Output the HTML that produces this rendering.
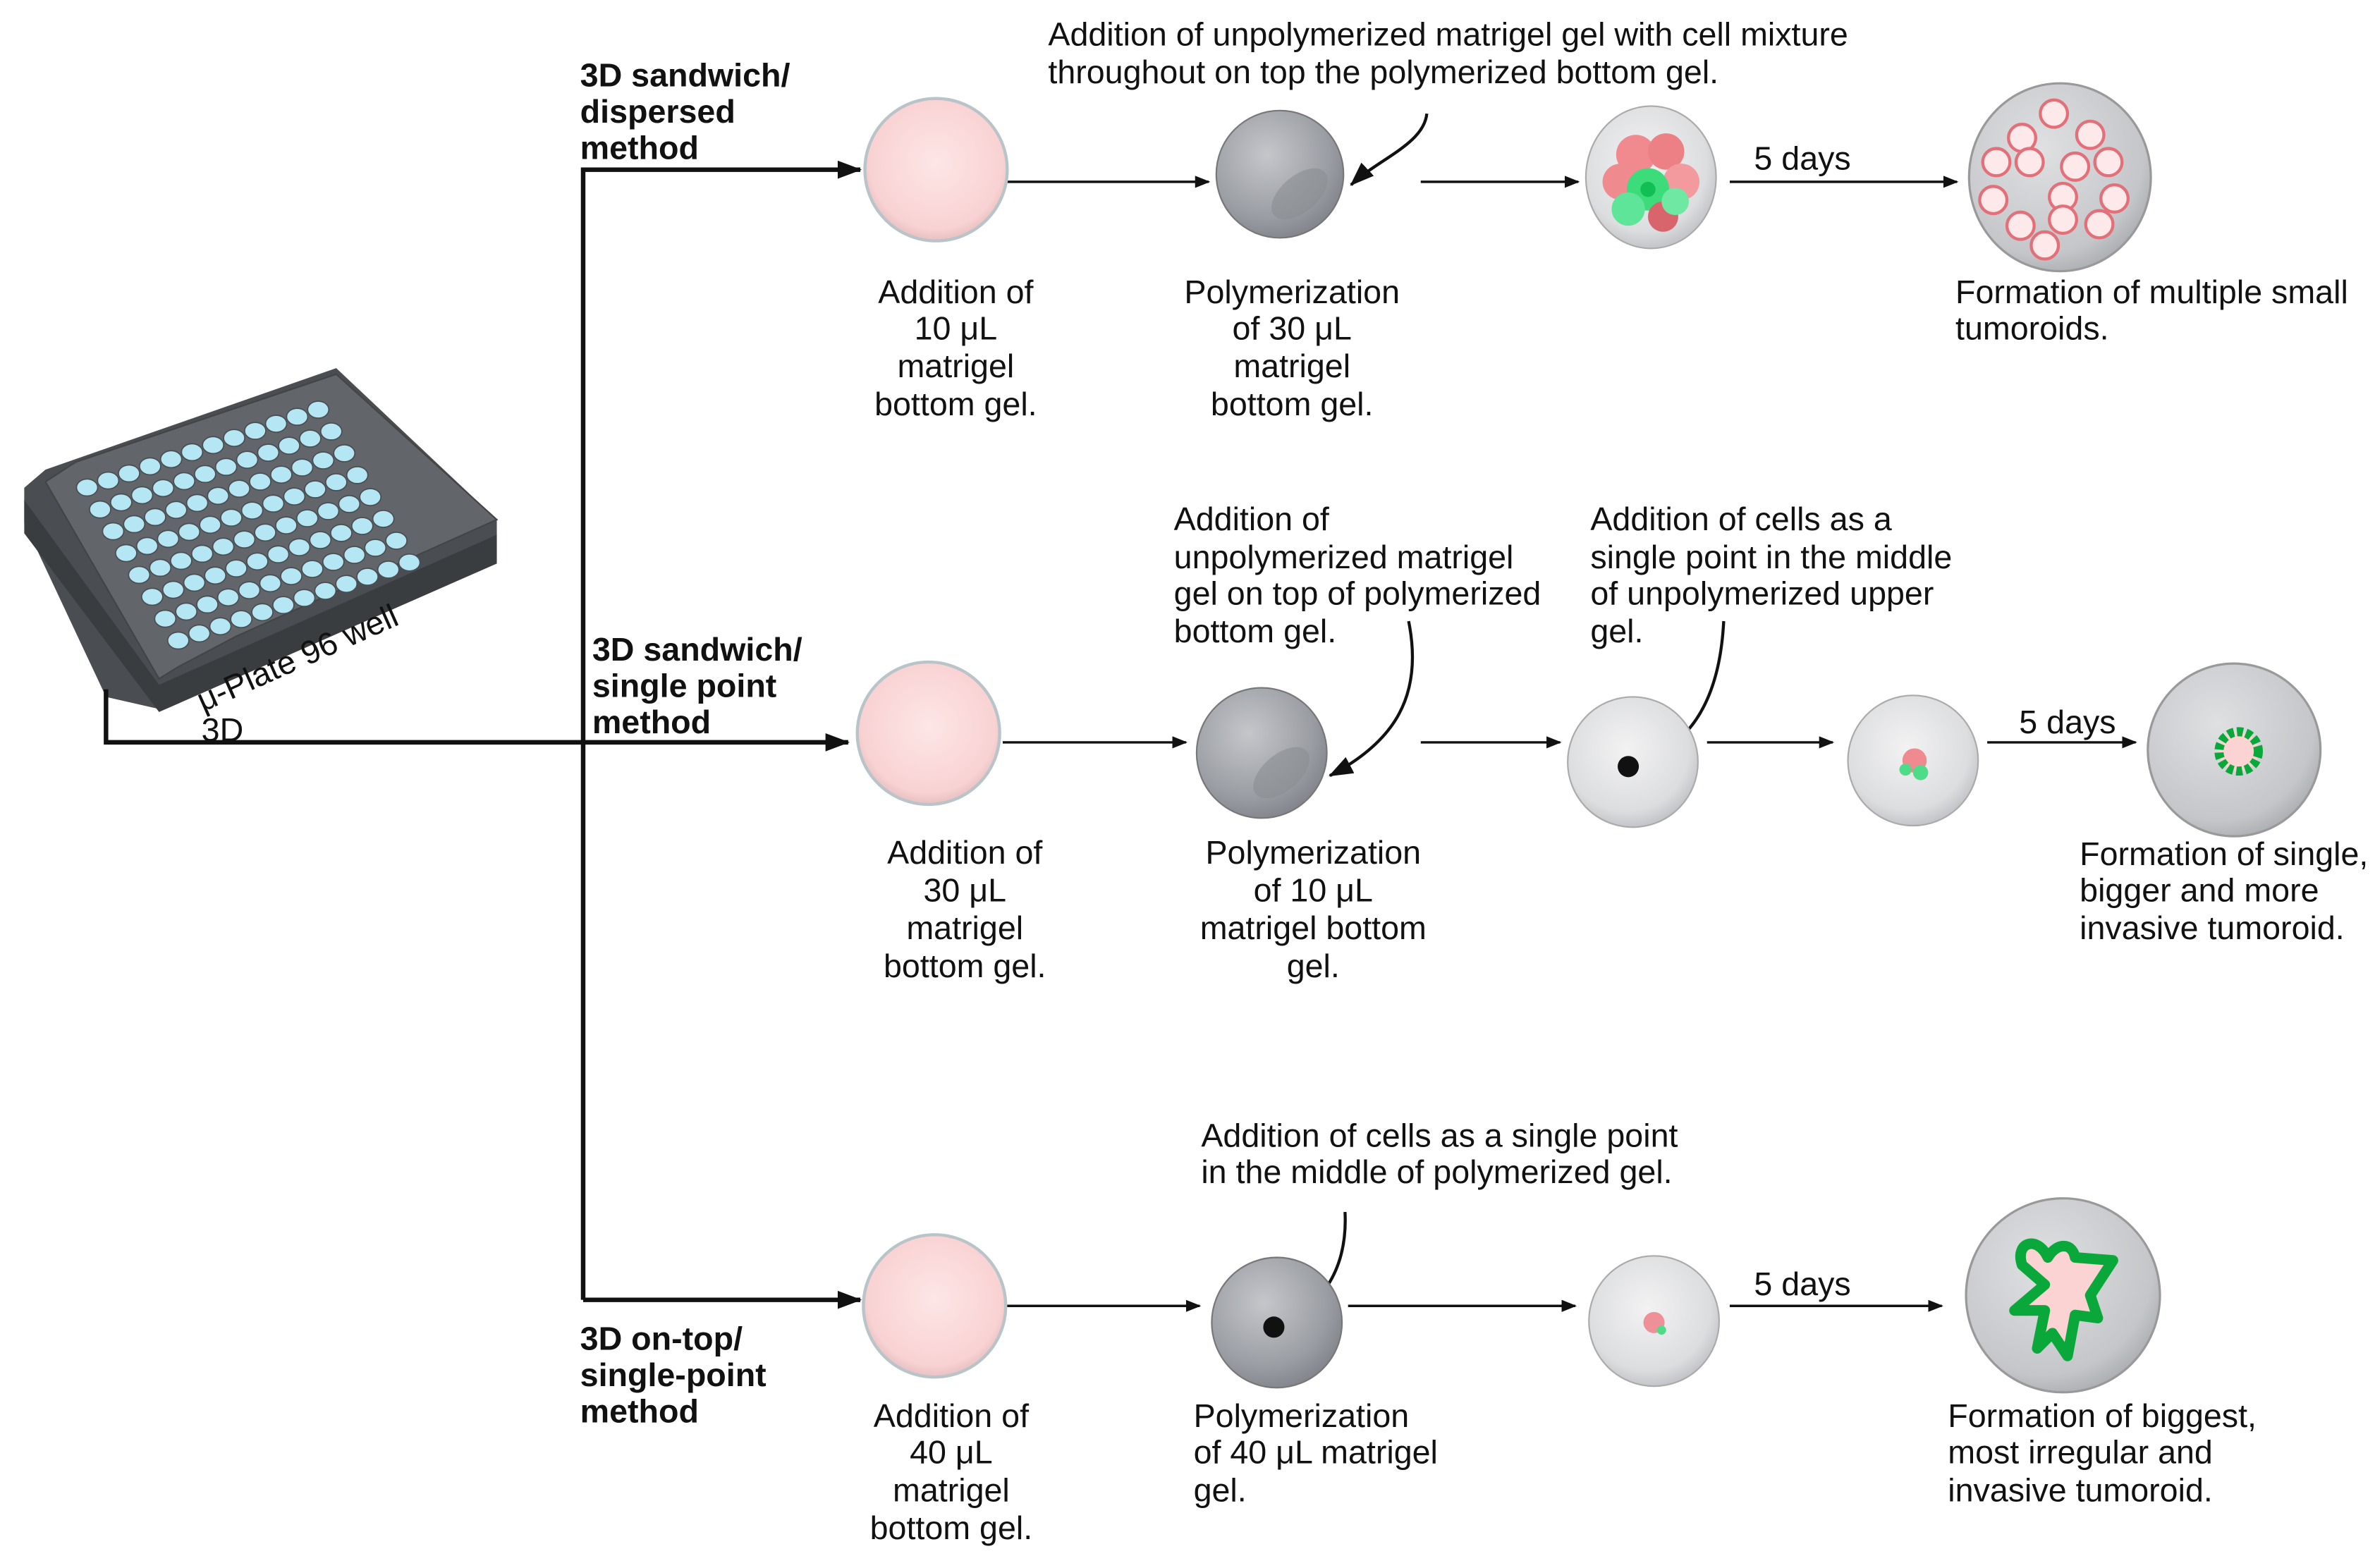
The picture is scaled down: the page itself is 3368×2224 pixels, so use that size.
<!DOCTYPE html>
<html><head><meta charset="utf-8"><style>
html,body{margin:0;padding:0;background:#fff}
svg{display:block}
text{font-family:"Liberation Sans",Arial,sans-serif;font-size:21.7px;fill:#111}
.b{font-weight:bold}
</style></head><body>
<svg width="3368" height="2224" viewBox="0 0 1568 1035" preserveAspectRatio="none" xmlns="http://www.w3.org/2000/svg">
<defs>
<marker id="ah" markerWidth="10" markerHeight="8" refX="9" refY="4" orient="auto" markerUnits="userSpaceOnUse"><path d="M0,0 L10,4 L0,8 z" fill="#111"/></marker>
<marker id="ahb" markerWidth="16" markerHeight="12" refX="15" refY="6" orient="auto" markerUnits="userSpaceOnUse"><path d="M0,0 L16,6 L0,12 z" fill="#111"/></marker>
<radialGradient id="pink" cx="0.5" cy="0.45" r="0.55"><stop offset="0" stop-color="#fde6e6"/><stop offset="0.85" stop-color="#f9d2d3"/><stop offset="1" stop-color="#e6c0c2"/></radialGradient>
<radialGradient id="gray" cx="0.4" cy="0.35" r="0.7"><stop offset="0" stop-color="#c4c6ca"/><stop offset="0.7" stop-color="#9a9da3"/><stop offset="1" stop-color="#7f8288"/></radialGradient>
<radialGradient id="lgray" cx="0.45" cy="0.4" r="0.6"><stop offset="0" stop-color="#f2f2f3"/><stop offset="0.8" stop-color="#dcdddf"/><stop offset="1" stop-color="#c3c5c8"/></radialGradient>
<radialGradient id="mgray" cx="0.4" cy="0.35" r="0.7"><stop offset="0" stop-color="#dfe0e2"/><stop offset="0.8" stop-color="#c4c6c9"/><stop offset="1" stop-color="#a8abaf"/></radialGradient>
</defs>

<!-- plate -->
<g>
<polygon points="16,322 30,310 222,243 328,343 328,370 105,468 70,460 16,345" fill="#4a4e52"/>
<polygon points="16,330 105,452 328,353 328,372 105,470 16,352" fill="#3a3d40"/>
<polygon points="30,318 50,305 222,247 328,343 156,420 118,440 105,448" fill="#62666b" stroke="#444" stroke-width="1"/>
<g id="wells"></g>
</g>

<!-- connectors -->
<g fill="none" stroke="#111" stroke-width="3">
<path d="M70,455 L70,490 L560,490" marker-end="url(#ahb)"/>
<path d="M385,858 L385,112 L568,112" marker-end="url(#ahb)"/>
<path d="M385,858 L568,858" marker-end="url(#ahb)"/>
</g>
<g fill="none" stroke="#111" stroke-width="1.6">
<path d="M665,120 L798,120" marker-end="url(#ah)"/>
<path d="M938,120 L1042,120" marker-end="url(#ah)"/>
<path d="M1142,120 L1292,120" marker-end="url(#ah)"/>
<path d="M662,490 L783,490" marker-end="url(#ah)"/>
<path d="M938,490 L1030,490" marker-end="url(#ah)"/>
<path d="M1127,490 L1210,490" marker-end="url(#ah)"/>
<path d="M1312,490 L1410,490" marker-end="url(#ah)"/>
<path d="M662,862 L792,862" marker-end="url(#ah)"/>
<path d="M890,862 L1040,862" marker-end="url(#ah)"/>
<path d="M1142,862 L1282,862" marker-end="url(#ah)"/>
</g>
<g fill="none" stroke="#111" stroke-width="2">
<path d="M942,75 C940,95 910,105 892,122" marker-end="url(#ahb)"/>
<path d="M930,410 C940,460 920,490 878,512" marker-end="url(#ahb)"/>
<path d="M1138,410 C1135,470 1110,495 1078,505"/>
<path d="M888,800 C890,840 870,865 843,875"/>
</g>

<!-- row1 wells -->
<circle cx="618" cy="112" r="47" fill="url(#pink)" stroke="#b8c4c8" stroke-width="2"/>
<circle cx="845" cy="115" r="42" fill="url(#gray)" stroke="#777" stroke-width="1"/>
<ellipse cx="858" cy="128" rx="22" ry="12" fill="#8a8d93" opacity="0.6" transform="rotate(-40 858 128)"/>
<ellipse cx="1090" cy="117" rx="43" ry="47" fill="url(#lgray)" stroke="#aaa" stroke-width="1"/>
<circle cx="1080" cy="102" r="13" fill="#f08a8e"/><circle cx="1100" cy="100" r="12" fill="#ec8085"/>
<circle cx="1070" cy="120" r="12" fill="#ef8a8f"/><circle cx="1110" cy="120" r="12" fill="#f29a9d"/>
<circle cx="1088" cy="125" r="14" fill="#3ddc7a"/><circle cx="1075" cy="138" r="11" fill="#5ee59a"/>
<circle cx="1098" cy="143" r="10" fill="#d9656c"/><circle cx="1106" cy="133" r="9" fill="#6ee8a2"/>
<circle cx="1088" cy="125" r="5" fill="#10c055"/>
<ellipse cx="1360" cy="117" rx="60" ry="62" fill="url(#mgray)" stroke="#999" stroke-width="1.5"/>
<g fill="#fde8ea" stroke="#e36f78" stroke-width="2">
<circle cx="1356" cy="75" r="9"/><circle cx="1335" cy="91" r="9"/><circle cx="1380" cy="89" r="9"/>
<circle cx="1318" cy="107" r="9"/><circle cx="1340" cy="107" r="9"/><circle cx="1370" cy="110" r="9"/><circle cx="1392" cy="107" r="9"/>
<circle cx="1316" cy="132" r="9"/><circle cx="1362" cy="130" r="9"/><circle cx="1396" cy="131" r="9"/>
<circle cx="1334" cy="149" r="9"/><circle cx="1386" cy="148" r="9"/><circle cx="1362" cy="145" r="9"/><circle cx="1350" cy="162" r="9"/>
</g>

<!-- row2 wells -->
<circle cx="613" cy="484" r="47" fill="url(#pink)" stroke="#b8c4c8" stroke-width="2"/>
<circle cx="833" cy="497" r="43" fill="url(#gray)" stroke="#777" stroke-width="1"/>
<ellipse cx="846" cy="510" rx="22" ry="12" fill="#8a8d93" opacity="0.6" transform="rotate(-40 846 510)"/>
<circle cx="1078" cy="503" r="43" fill="url(#lgray)" stroke="#aaa" stroke-width="1"/>
<circle cx="1075" cy="506" r="7" fill="#111"/>
<circle cx="1263" cy="502" r="43" fill="url(#lgray)" stroke="#aaa" stroke-width="1"/>
<circle cx="1264" cy="502" r="8" fill="#ee8a90"/><circle cx="1268" cy="510" r="5" fill="#4fdc88"/><circle cx="1258" cy="508" r="4" fill="#4fdc88"/>
<circle cx="1475" cy="495" r="57" fill="url(#mgray)" stroke="#999" stroke-width="1.5"/>
<circle cx="1478" cy="496" r="13" fill="#fbd3d3" stroke="#0aa83a" stroke-width="6" stroke-dasharray="4 2"/>

<!-- row3 wells -->
<circle cx="617" cy="862" r="47" fill="url(#pink)" stroke="#b8c4c8" stroke-width="2"/>
<circle cx="843" cy="873" r="43" fill="url(#gray)" stroke="#777" stroke-width="1"/>
<circle cx="841" cy="876" r="7" fill="#111"/>
<circle cx="1092" cy="872" r="43" fill="url(#lgray)" stroke="#aaa" stroke-width="1"/>
<circle cx="1092" cy="873" r="7" fill="#ee9097"/><circle cx="1097" cy="878" r="3" fill="#4fdc88"/>
<circle cx="1362" cy="855" r="64" fill="url(#mgray)" stroke="#999" stroke-width="1.5"/>
<path d="M1335,835 C1330,820 1345,815 1352,830 C1358,820 1368,820 1370,830 L1395,832 L1380,855 L1385,870 L1370,868 L1365,895 L1355,880 L1345,890 L1350,865 L1330,865 L1350,848 Z" fill="#fbd3d3" stroke="#0aa83a" stroke-width="7" stroke-linejoin="round"/>

<!-- labels -->
<text class="b" x="383" y="57">3D sandwich/</text>
<text class="b" x="383" y="81">dispersed</text>
<text class="b" x="383" y="105">method</text>
<text class="b" x="391" y="436">3D sandwich/</text>
<text class="b" x="391" y="460">single point</text>
<text class="b" x="391" y="484">method</text>
<text class="b" x="383" y="891">3D on-top/</text>
<text class="b" x="383" y="915">single-point</text>
<text class="b" x="383" y="939">method</text>
<text x="134" y="470" transform="rotate(-24 134 470)">μ-Plate 96 well</text>
<text x="133" y="489">3D</text>

<text x="692" y="30">Addition of unpolymerized matrigel gel with cell mixture</text>
<text x="692" y="55">throughout on top the polymerized bottom gel.</text>
<g text-anchor="middle">
<text x="631" y="200">Addition  of</text><text x="631" y="224">10 μL</text><text x="631" y="249">matrigel</text><text x="631" y="274">bottom gel.</text>
<text x="853" y="200">Polymerization</text><text x="853" y="224">of 30 μL</text><text x="853" y="249">matrigel</text><text x="853" y="274">bottom gel.</text>
<text x="1190" y="112">5 days</text>
<text x="637" y="570">Addition of</text><text x="637" y="595">30 μL</text><text x="637" y="620">matrigel</text><text x="637" y="645">bottom gel.</text>
<text x="867" y="570">Polymerization</text><text x="867" y="595">of 10 μL</text><text x="867" y="620">matrigel bottom</text><text x="867" y="645">gel.</text>
<text x="1365" y="484">5 days</text>
<text x="628" y="942">Addition of</text><text x="628" y="966">40 μL</text><text x="628" y="991">matrigel</text><text x="628" y="1016">bottom gel.</text>
<text x="1190" y="855">5 days</text>
</g>
<text x="1291" y="200">Formation of multiple small</text>
<text x="1291" y="224">tumoroids.</text>
<text x="775" y="350">Addition of</text>
<text x="775" y="375">unpolymerized matrigel</text>
<text x="775" y="399">gel on top of polymerized</text>
<text x="775" y="424">bottom gel.</text>
<text x="1050" y="350">Addition of cells as a</text>
<text x="1050" y="375">single point in the middle</text>
<text x="1050" y="399">of unpolymerized upper</text>
<text x="1050" y="424">gel.</text>
<text x="1373" y="571">Formation of single,</text>
<text x="1373" y="595">bigger and more</text>
<text x="1373" y="620">invasive tumoroid.</text>
<text x="793" y="757">Addition of cells as a single point</text>
<text x="793" y="781">in the middle of polymerized  gel.</text>
<text x="788" y="942">Polymerization</text>
<text x="788" y="966">of 40 μL matrigel</text>
<text x="788" y="991">gel.</text>
<text x="1286" y="942">Formation of biggest,</text>
<text x="1286" y="966">most irregular and</text>
<text x="1286" y="991">invasive tumoroid.</text>
</svg>
<script>
(function(){
var g=document.getElementById('wells'),s='';
var A=[44,316],ex=[(222-50)/12.4,(247-305)/12.4],ey=[(118-44)/8.6,(440-316)/8.6];
for(var i=0;i<12;i++)for(var j=0;j<8;j++){
var x=A[0]+ex[0]*(i+0.6)+ey[0]*(j+0.6),y=A[1]+ex[1]*(i+0.6)+ey[1]*(j+0.6);
s+='<ellipse cx="'+x.toFixed(1)+'" cy="'+y.toFixed(1)+'" rx="7" ry="5.6" fill="#b4e6f4" stroke="#4a4e52" stroke-width="0.8"/>';}
g.innerHTML=s;})();
</script>
</body></html>
